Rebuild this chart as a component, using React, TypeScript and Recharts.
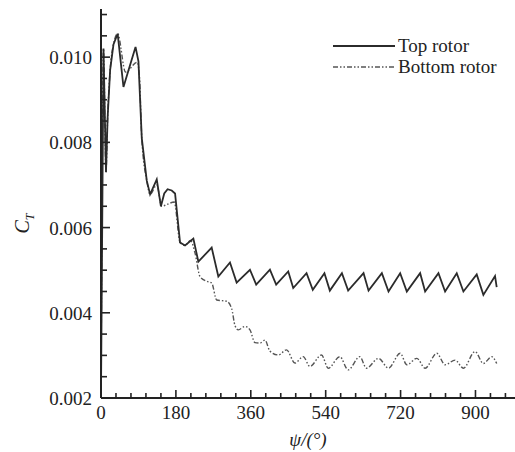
import { LineChart, Line, XAxis, YAxis, Legend, Label } from "recharts";

// rotor azimuth (deg) and thrust coefficient
const topAngle = [
  0, 6, 12, 16, 22, 30, 40, 54, 83, 90, 98, 110, 118, 134, 144, 152, 160, 170,
  178, 190, 202, 222, 234, 266, 282, 310, 326, 358, 373, 406, 421, 450, 462,
  494, 509, 537, 550, 579, 594, 631, 643, 675, 691, 719, 735, 767, 779, 811,
  827, 855, 871, 903, 919, 947, 951,
];
const topCT = [
  0.0021, 0.0102, 0.0073, 0.0086, 0.0097, 0.0103, 0.01055, 0.0093, 0.01024,
  0.0099, 0.0081, 0.0071, 0.00678, 0.00713, 0.0065, 0.0068, 0.0069, 0.00687,
  0.0068, 0.00565, 0.00558, 0.00574, 0.0052, 0.00553, 0.00485, 0.00518,
  0.00471, 0.00501, 0.00466, 0.00501, 0.00466, 0.00497, 0.00458, 0.00493,
  0.00454, 0.00493, 0.00452, 0.00493, 0.00452, 0.00493, 0.00452, 0.00493,
  0.0045, 0.00493, 0.0045, 0.00493, 0.0045, 0.00493, 0.0045, 0.00493, 0.0045,
  0.0049, 0.00442, 0.00486, 0.0046,
];

const bottomAngle = [
  0, 6, 12, 16, 22, 30, 40, 59, 87, 92, 98, 110, 118, 134, 146, 160, 176, 190,
  202, 215, 226, 238, 254, 266, 278, 302, 314, 322, 330, 346, 358, 370, 382,
  394, 406, 426, 446, 466, 486, 502, 530, 546, 574, 594, 622, 638, 667, 691,
  719, 735, 759, 779, 807, 827, 851, 871, 899, 919, 939, 951,
];
const bottomCT = [
  0.0021, 0.0102, 0.0073, 0.0086, 0.0097, 0.0103, 0.01055, 0.00965, 0.00988,
  0.0096, 0.0081, 0.0071, 0.00678, 0.007, 0.0065, 0.00655, 0.0066, 0.00565,
  0.00558, 0.0057, 0.0054, 0.00485, 0.00474, 0.0047, 0.0043, 0.00427, 0.0041,
  0.0037, 0.0036, 0.00368, 0.0036, 0.0033, 0.00329, 0.00336, 0.0031, 0.00301,
  0.00313, 0.00282, 0.00297, 0.00274, 0.00301, 0.0027, 0.00297, 0.00266,
  0.00297, 0.0027, 0.00293, 0.0027, 0.00305, 0.00278, 0.00293, 0.0027,
  0.00305, 0.00278, 0.00289, 0.0027, 0.00309, 0.00281, 0.00297, 0.00281,
];

const xTicks = [
  0, 36, 72, 108, 144, 180, 216, 252, 288, 324, 360, 396, 432, 468, 504, 540,
  576, 612, 648, 684, 720, 756, 792, 828, 864, 900, 936, 972,
];
const xMajor = [0, 180, 360, 540, 720, 900];

const yTicks = [
  0.002, 0.0025, 0.003, 0.0035, 0.004, 0.0045, 0.005, 0.0055, 0.006, 0.0065,
  0.007, 0.0075, 0.008, 0.0085, 0.009, 0.0095, 0.01, 0.0105, 0.011,
];
const yMajor = [0.002, 0.004, 0.006, 0.008, 0.01];

const topData = topAngle.map((a, i) => ({ psi: a, ct: topCT[i] }));
const bottomData = bottomAngle.map((a, i) => ({ psi: a, ct: bottomCT[i] }));

const FONT = "'Liberation Serif', 'Times New Roman', serif";
const INK = "#222";
const X_MARGIN = 8;
const Y_MARGIN = 9;

function XTick(props: any) {
  const { x, y, payload } = props;
  const v = payload.value;
  const major = xMajor.includes(v);
  const axisY = y - X_MARGIN;
  return (
    <g>
      <line x1={x} x2={x} y1={axisY} y2={axisY - (major ? 8 : 5)} stroke={INK} strokeWidth={1.6} />
      {major && (
        <text x={x} y={y} dy={13} textAnchor="middle" fontFamily={FONT} fontSize={19} fill={INK}>
          {v}
        </text>
      )}
    </g>
  );
}

function YTick(props: any) {
  const { x, y, payload } = props;
  const major = yMajor.some((m) => Math.abs(m - payload.value) < 1e-9);
  const axisX = x + Y_MARGIN;
  return (
    <g>
      <line x1={axisX} x2={axisX + (major ? 9 : 6)} y1={y} y2={y} stroke={INK} strokeWidth={1.6} />
      {major && (
        <text x={x} y={y} dy={7} textAnchor="end" fontFamily={FONT} fontSize={19} fill={INK}>
          {payload.value.toFixed(3)}
        </text>
      )}
    </g>
  );
}

function CTLabel(props: any) {
  const { viewBox } = props;
  const cx = viewBox.x + 22;
  const cy = viewBox.y + viewBox.height / 2 + 20;
  return (
    <text transform={`translate(${cx},${cy}) rotate(-90)`} textAnchor="middle" dy={7} fontFamily={FONT} fontSize={20} fontStyle="italic" fill={INK}>
      C
      <tspan fontSize={12} dy={5}>T</tspan>
    </text>
  );
}

function LegendBox() {
  const rows = [
    { name: "Top rotor", dash: undefined, color: "#2b2b2b", w: 1.8 },
    { name: "Bottom rotor", dash: "5 2 1.5 2 1.5 2", color: "#555", w: 1.4 },
  ];
  return (
    <div style={{ fontFamily: FONT, fontSize: 19, color: INK }}>
      {rows.map((r) => (
        <div key={r.name} style={{ display: "flex", alignItems: "center", height: 21 }}>
          <svg width={64} height={10} style={{ marginRight: 1 }}>
            <line x1={0} x2={62} y1={5} y2={5} stroke={r.color} strokeWidth={r.w} strokeDasharray={r.dash} />
          </svg>
          <span style={{ lineHeight: "21px" }}>{r.name}</span>
        </div>
      ))}
    </div>
  );
}

export default function App() {
  return (
    <div style={{ position: "absolute", left: 0, top: 0, width: 515, height: 452, background: "#fff" }}>
      <LineChart width={515} height={452} margin={{ top: 9, right: 0, bottom: 0, left: 0 }}>
        <XAxis
          dataKey="psi"
          type="number"
          domain={[0, 995]}
          ticks={xTicks}
          interval={0}
          height={54}
          tickSize={0}
          tickMargin={X_MARGIN}
          tick={<XTick />}
          axisLine={{ stroke: INK, strokeWidth: 2 }}
          allowDuplicatedCategory={false}
        >
          <Label value="ψ/(°)" position="insideBottom" offset={6} fontFamily={FONT} fontSize={19} fill={INK} fontStyle="italic" />
        </XAxis>
        <XAxis
          xAxisId="top"
          orientation="top"
          type="number"
          domain={[0, 995]}
          height={0}
          tick={false}
          tickLine={false}
          axisLine={{ stroke: INK, strokeWidth: 2 }}
        />
        <YAxis
          type="number"
          domain={[0.002, 0.01113]}
          ticks={yTicks}
          interval={0}
          width={101}
          tickSize={0}
          tickMargin={Y_MARGIN}
          tick={<YTick />}
          axisLine={{ stroke: INK, strokeWidth: 2 }}
          allowDataOverflow
        >
          <Label content={<CTLabel />} />
        </YAxis>
        <Legend
          verticalAlign="middle"
          align="center"
          layout="horizontal"
          content={<LegendBox />}
          wrapperStyle={{ top: 35, left: 333, width: 182 }}
        />
        <Line
          data={bottomData}
          dataKey="ct"
          type="monotone"
          stroke="#555"
          strokeWidth={1.4}
          strokeDasharray="5 2 1.5 2 1.5 2"
          dot={false}
          name="Bottom rotor"
          isAnimationActive={false}
        />
        <Line
          data={topData}
          dataKey="ct"
          type="linear"
          stroke="#2b2b2b"
          strokeWidth={1.8}
          dot={false}
          name="Top rotor"
          isAnimationActive={false}
        />
      </LineChart>
    </div>
  );
}
